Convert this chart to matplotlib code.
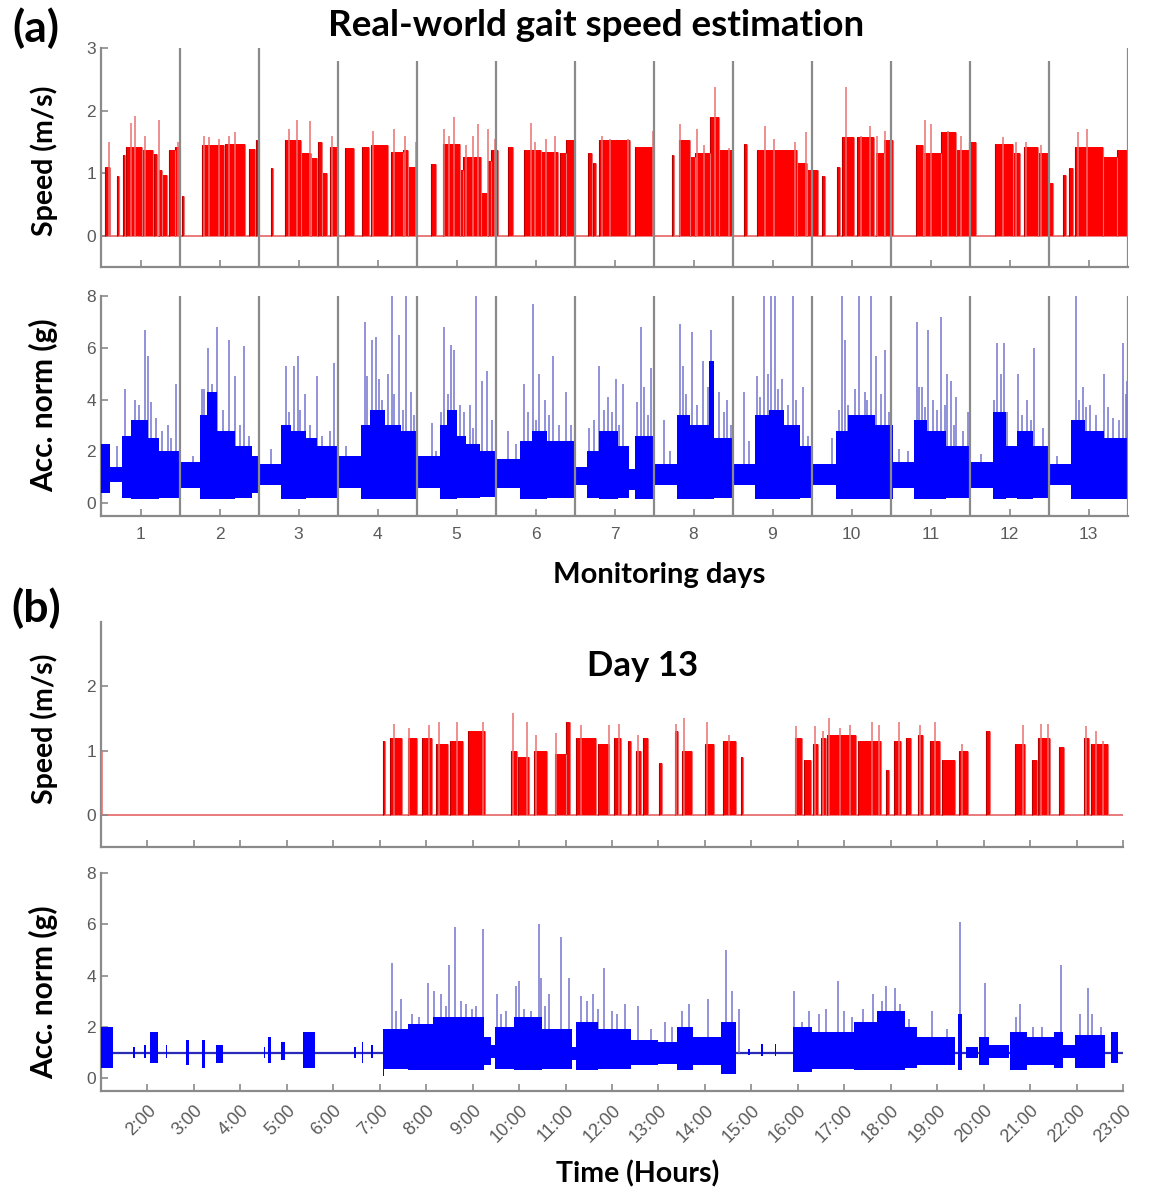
import matplotlib
matplotlib.use("Agg")
import matplotlib.pyplot as plt

# ---- panel (a): 13 monitoring days, x in day units ----
days = list(range(1, 14))
day_separators = [1.5, 2.5, 3.5, 4.5, 5.5, 6.5, 7.5, 8.5, 9.5, 10.5, 11.5, 12.5, 13.5]
separator_tops_speed = [3.0, 3.0, 2.8, 2.8, 2.8, 2.8, 2.8, 2.8, 2.8, 2.8, 2.8, 2.8, 3.0]

# walking bouts: (start day, end day, speed m/s)
speed_a_bouts = [
    (0.55, 0.62, 1.10), (0.70, 0.725, 0.95), (0.775, 0.81, 1.29), (0.82, 1.016, 1.42),
    (1.016, 1.164, 1.37), (1.173, 1.215, 1.30), (1.228, 1.27, 1.05), (1.27, 1.334, 0.97),
    (1.355, 1.44, 1.37), (1.44, 1.50, 1.42),
    (1.524, 1.554, 0.63), (1.778, 2.062, 1.45), (2.074, 2.328, 1.47), (2.37, 2.455, 1.39),
    (2.468, 2.50, 1.53),
    (2.654, 2.68, 1.08), (2.824, 3.027, 1.53), (3.027, 3.154, 1.32), (3.154, 3.238, 1.24),
    (3.247, 3.302, 1.50), (3.302, 3.365, 1.00), (3.40, 3.50, 1.42),
    (3.59, 3.704, 1.40), (3.801, 3.894, 1.42), (3.924, 4.127, 1.45), (4.17, 4.318, 1.34),
    (4.318, 4.381, 1.37), (4.381, 4.487, 1.10),
    (4.68, 4.74, 1.15), (4.83, 5.04, 1.47), (5.04, 5.08, 1.05), (5.08, 5.31, 1.26),
    (5.31, 5.39, 0.68), (5.40, 5.44, 1.20), (5.44, 5.52, 1.37),
    (5.65, 5.715, 1.42), (5.855, 6.075, 1.37), (6.075, 6.286, 1.34), (6.308, 6.392, 1.32),
    (6.392, 6.50, 1.53),
    (6.67, 6.71, 1.32), (6.73, 6.77, 1.16), (6.80, 7.20, 1.53), (7.26, 7.50, 1.42),
    (7.725, 7.755, 1.29), (7.82, 7.96, 1.53), (7.96, 8.02, 1.26), (8.02, 8.21, 1.32),
    (8.21, 8.32, 1.90), (8.32, 8.50, 1.37),
    (8.635, 8.68, 1.47), (8.805, 9.31, 1.37), (9.31, 9.44, 1.16), (9.44, 9.57, 1.05),
    (9.63, 9.67, 0.95),
    (9.82, 9.86, 1.10), (9.875, 10.03, 1.58), (10.075, 10.285, 1.58), (10.31, 10.41, 1.32),
    (10.41, 10.52, 1.53),
    (10.82, 10.90, 1.45), (10.90, 11.13, 1.32), (11.13, 11.32, 1.66), (11.32, 11.49, 1.37),
    (11.49, 11.57, 1.50),
    (11.82, 12.04, 1.47), (12.04, 12.135, 1.32), (12.18, 12.36, 1.42), (12.36, 12.49, 1.32),
    (12.49, 12.55, 0.84),
    (12.68, 12.71, 0.97), (12.75, 12.805, 1.08), (12.825, 13.185, 1.42), (13.185, 13.355, 1.26),
    (13.355, 13.50, 1.37),
]
# single tall speed samples: (day, speed m/s)
speed_a_peaks = [
    (0.60, 1.50), (0.876, 1.80), (0.93, 1.92), (1.058, 1.60), (1.228, 1.85), (1.469, 1.50),
    (1.80, 1.60), (1.863, 1.58), (1.99, 1.55), (2.125, 1.60), (2.19, 1.65),
    (2.878, 1.70), (2.984, 1.85), (3.145, 1.84), (3.42, 1.60),
    (3.937, 1.68), (4.212, 1.70), (4.347, 1.60), (4.487, 1.50),
    (4.847, 1.70), (4.91, 1.60), (4.974, 1.90), (5.12, 1.45), (5.207, 1.60), (5.27, 1.78),
    (5.398, 1.70), (5.49, 1.55),
    (5.94, 1.80), (5.99, 1.50), (6.138, 1.55), (6.25, 1.60),
    (6.837, 1.60), (6.943, 1.55), (7.175, 1.55), (7.493, 1.67),
    (7.83, 1.78), (8.043, 1.70), (8.128, 1.45), (8.276, 2.37), (8.445, 1.40),
    (8.911, 1.75), (9.017, 1.55), (9.29, 1.50), (9.427, 1.65), (9.495, 1.55),
    (9.935, 2.37), (10.117, 1.60), (10.23, 1.75), (10.328, 1.60), (10.426, 1.67),
    (10.934, 1.85), (11.006, 1.78), (11.217, 1.68), (11.387, 1.60),
    (11.915, 1.58), (12.085, 1.50), (12.21, 1.50), (12.40, 1.45),
    (12.868, 1.65), (12.982, 1.70), (13.50, 1.83),
]

# acceleration envelope: (start day, end day, low g, high g)
acc_a_bands = [
    (0.50, 0.616, 0.4, 2.3), (0.616, 0.76, 0.8, 1.4),
    (0.76, 0.88, 0.2, 2.6), (0.88, 1.10, 0.15, 3.2), (1.10, 1.24, 0.15, 2.5), (1.24, 1.49, 0.2, 2.0),
    (1.50, 1.755, 0.6, 1.6),
    (1.755, 1.84, 0.15, 3.4), (1.84, 1.97, 0.15, 4.3), (1.97, 2.20, 0.15, 2.8), (2.20, 2.41, 0.2, 2.2),
    (2.41, 2.497, 0.4, 1.8), (2.497, 2.773, 0.7, 1.5),
    (2.773, 2.90, 0.15, 3.0), (2.90, 3.10, 0.15, 2.8), (3.10, 3.233, 0.2, 2.5), (3.233, 3.495, 0.2, 2.2),
    (3.495, 3.79, 0.6, 1.8),
    (3.79, 3.90, 0.15, 3.0), (3.90, 4.10, 0.15, 3.6), (4.10, 4.30, 0.15, 3.0), (4.30, 4.493, 0.15, 2.8),
    (4.493, 4.785, 0.6, 1.8),
    (4.785, 4.88, 0.15, 3.0), (4.88, 5.00, 0.15, 3.6), (5.00, 5.12, 0.2, 2.6), (5.12, 5.30, 0.2, 2.3),
    (5.30, 5.497, 0.25, 2.0),
    (5.497, 5.80, 0.6, 1.7),
    (5.80, 5.95, 0.15, 2.4), (5.95, 6.15, 0.15, 2.8), (6.15, 6.50, 0.2, 2.4),
    (6.505, 6.65, 0.7, 1.4),
    (6.65, 6.80, 0.2, 2.0), (6.80, 7.05, 0.15, 2.8), (7.05, 7.18, 0.2, 2.2), (7.18, 7.256, 0.5, 1.3),
    (7.256, 7.50, 0.15, 2.6),
    (7.50, 7.79, 0.7, 1.5),
    (7.79, 7.95, 0.15, 3.4), (7.95, 8.20, 0.15, 3.0), (8.20, 8.26, 0.15, 5.5), (8.26, 8.50, 0.2, 2.5),
    (8.502, 8.78, 0.7, 1.5),
    (8.78, 8.95, 0.15, 3.4), (8.95, 9.15, 0.15, 3.6), (9.15, 9.35, 0.15, 3.0), (9.35, 9.50, 0.2, 2.2),
    (9.50, 9.80, 0.7, 1.5),
    (9.80, 9.95, 0.15, 2.8), (9.95, 10.30, 0.15, 3.4), (10.30, 10.53, 0.15, 3.0),
    (10.53, 10.795, 0.6, 1.6),
    (10.795, 10.95, 0.15, 3.2), (10.95, 11.20, 0.15, 2.8), (11.20, 11.498, 0.2, 2.2),
    (11.498, 11.79, 0.6, 1.6),
    (11.79, 11.95, 0.15, 3.5), (11.95, 12.10, 0.2, 2.2), (12.10, 12.30, 0.15, 2.8), (12.30, 12.49, 0.2, 2.2),
    (12.49, 12.78, 0.7, 1.5),
    (12.78, 12.95, 0.15, 3.2), (12.95, 13.20, 0.15, 2.8), (13.20, 13.50, 0.15, 2.5),
]
acc_a_spikes = [
    (0.70, 2.2), (0.81, 4.4), (0.93, 4.0), (0.98, 3.8), (1.052, 6.7), (1.09, 5.7), (1.13, 3.9),
    (1.197, 3.3), (1.27, 2.8), (1.343, 3.0), (1.38, 2.5), (1.45, 4.6),
    (1.66, 1.8), (1.78, 4.4), (1.80, 4.4), (1.852, 6.0), (1.91, 4.6), (1.973, 6.8), (2.05, 3.6),
    (2.118, 6.3), (2.19, 4.9), (2.26, 3.0), (2.312, 6.05), (2.37, 2.6),
    (2.65, 2.1), (2.836, 5.3), (2.88, 3.5), (2.942, 5.3), (2.99, 5.7), (3.02, 3.6), (3.088, 4.2),
    (3.15, 3.0), (3.233, 4.9), (3.30, 2.6), (3.40, 2.8), (3.451, 5.4),
    (3.597, 2.2), (3.839, 7.0), (3.87, 4.9), (3.936, 6.3), (3.985, 6.4), (4.02, 4.8), (4.057, 4.0),
    (4.13, 5.0), (4.178, 8.0), (4.21, 4.2), (4.275, 6.5), (4.32, 3.6), (4.363, 8.0), (4.42, 4.3),
    (4.46, 3.4),
    (4.687, 3.1), (4.74, 2.0), (4.81, 3.5), (4.843, 6.8), (4.89, 4.2), (4.93, 6.1), (4.969, 5.9),
    (5.04, 3.8), (5.10, 3.5), (5.172, 3.8), (5.21, 2.9), (5.245, 8.0), (5.318, 4.7), (5.39, 5.1),
    (5.45, 3.2),
    (5.657, 2.8), (5.75, 2.3), (5.851, 4.6), (5.90, 3.5), (5.972, 7.7), (6.00, 3.2), (6.045, 5.0),
    (6.117, 4.0), (6.17, 3.4), (6.22, 5.7), (6.30, 3.0), (6.384, 4.3), (6.45, 3.0),
    (6.675, 2.9), (6.74, 3.2), (6.81, 5.3), (6.87, 3.6), (6.917, 4.1), (6.97, 3.5), (7.014, 4.8),
    (7.06, 3.0), (7.11, 4.6), (7.29, 3.9), (7.33, 6.8), (7.378, 4.5), (7.42, 3.4), (7.46, 5.2),
    (7.63, 3.2), (7.70, 2.0), (7.83, 6.9), (7.862, 5.3), (7.90, 4.2), (7.983, 6.6), (8.05, 3.8),
    (8.12, 5.5), (8.18, 4.5), (8.226, 6.7), (8.323, 4.3), (8.38, 3.5), (8.43, 4.0), (8.47, 3.0),
    (8.638, 4.3), (8.70, 2.4), (8.807, 4.9), (8.84, 4.1), (8.89, 8.0), (8.94, 5.0), (8.977, 8.0),
    (9.026, 8.0), (9.07, 4.4), (9.12, 4.8), (9.20, 3.8), (9.254, 8.0), (9.30, 4.0), (9.39, 4.5),
    (9.45, 2.6),
    (9.753, 2.5), (9.84, 3.6), (9.874, 8.0), (9.913, 6.3), (9.96, 3.8), (10.05, 4.4), (10.092, 8.0),
    (10.165, 4.3), (10.20, 4.0), (10.252, 8.0), (10.31, 5.7), (10.37, 4.2), (10.43, 5.9),
    (10.48, 3.5),
    (10.60, 2.1), (10.72, 2.0), (10.834, 7.0), (10.86, 4.5), (10.89, 4.5), (10.93, 3.7),
    (10.965, 6.7), (11.037, 4.0), (11.08, 3.6), (11.134, 7.2), (11.18, 3.8), (11.207, 5.0),
    (11.255, 4.7), (11.30, 3.0), (11.328, 4.1), (11.41, 2.8), (11.474, 3.5),
    (11.64, 1.9), (11.81, 4.0), (11.837, 6.2), (11.89, 5.0), (11.934, 6.2), (11.97, 3.5),
    (12.103, 5.0), (12.16, 3.4), (12.225, 4.0), (12.27, 3.2), (12.307, 6.0), (12.42, 2.9),
    (12.60, 1.8),
    (12.84, 8.0), (12.88, 4.0), (12.928, 4.5), (12.97, 3.7), (13.025, 3.8), (13.10, 3.4),
    (13.194, 5.0), (13.25, 3.7), (13.316, 3.3), (13.38, 3.2), (13.437, 6.2), (13.47, 4.2),
    (13.485, 4.7),
]

# ---- panel (b): day 13, x in hours ----
hour_ticks = list(range(2, 24))
hour_labels = [f"{h}:00" for h in hour_ticks]

speed_b_bouts = [
    (7.07, 7.12, 1.15), (7.23, 7.49, 1.20), (7.60, 7.80, 1.20), (7.91, 8.12, 1.20),
    (8.22, 8.47, 1.10), (8.51, 8.80, 1.15), (8.90, 9.27, 1.30),
    (9.83, 9.95, 1.00), (9.97, 10.21, 0.90), (10.32, 10.60, 1.00), (10.77, 11.00, 0.95),
    (11.02, 11.10, 1.45), (11.23, 11.66, 1.20), (11.70, 11.94, 1.10), (12.05, 12.20, 1.20),
    (12.34, 12.41, 1.15), (12.52, 12.62, 1.00), (12.67, 12.78, 1.20), (13.01, 13.07, 0.80),
    (13.35, 13.43, 1.30), (13.51, 13.72, 1.00), (14.01, 14.19, 1.10), (14.40, 14.66, 1.15),
    (14.77, 14.82, 0.90),
    (15.94, 16.08, 1.20), (16.13, 16.29, 0.85), (16.32, 16.44, 1.10), (16.50, 16.60, 1.20),
    (16.63, 17.26, 1.25), (17.30, 17.80, 1.15), (17.89, 17.96, 0.70), (18.07, 18.22, 1.15),
    (18.33, 18.43, 1.20), (18.59, 18.69, 1.25), (18.85, 19.06, 1.15), (19.11, 19.38, 0.85),
    (19.48, 19.67, 1.00), (20.06, 20.13, 1.30), (20.68, 20.89, 1.10), (21.05, 21.15, 0.85),
    (21.17, 21.42, 1.20), (21.63, 21.73, 1.05), (22.15, 22.26, 1.20), (22.31, 22.67, 1.10),
]
speed_b_peaks = [
    (1.03, 1.00), (7.31, 1.42), (7.63, 1.35), (8.07, 1.40), (8.28, 1.45), (8.67, 1.45), (9.22, 1.45),
    (9.87, 1.58), (10.18, 1.45), (10.37, 1.25), (10.79, 1.27), (11.33, 1.40), (11.94, 1.40),
    (12.15, 1.42), (12.57, 1.25), (13.38, 1.42), (13.54, 1.50), (14.04, 1.45), (14.51, 1.25),
    (15.97, 1.38), (16.36, 1.38), (16.55, 1.30), (16.67, 1.50), (16.91, 1.35), (17.12, 1.40),
    (17.60, 1.45), (17.75, 1.40), (18.17, 1.45), (18.62, 1.40), (18.96, 1.45), (19.53, 1.10),
    (20.84, 1.40), (21.24, 1.42), (21.39, 1.42), (22.20, 1.38), (22.41, 1.30), (22.57, 1.15),
]

acc_b_bands = [
    (1.00, 1.26, 0.4, 2.0),
    (1.68, 1.74, 0.8, 1.2), (1.92, 1.96, 0.8, 1.3), (2.06, 2.22, 0.6, 1.8), (2.39, 2.43, 0.8, 1.3),
    (2.84, 2.90, 0.5, 1.5), (3.17, 3.23, 0.4, 1.5), (3.47, 3.62, 0.6, 1.3), (4.50, 4.54, 0.8, 1.2),
    (4.60, 4.66, 0.6, 1.6), (4.87, 4.96, 0.7, 1.4), (5.35, 5.60, 0.4, 1.8), (6.44, 6.48, 0.8, 1.2),
    (6.61, 6.65, 0.6, 1.4), (6.82, 6.86, 0.8, 1.3), (7.06, 7.09, 0.1, 1.9),
    (7.09, 7.60, 0.35, 1.9), (7.60, 8.15, 0.3, 2.1), (8.15, 9.25, 0.3, 2.4), (9.25, 9.40, 0.5, 1.6),
    (9.40, 9.48, 0.8, 1.3),
    (9.48, 9.90, 0.35, 2.0), (9.90, 10.50, 0.3, 2.4), (10.50, 11.13, 0.35, 1.9), (11.13, 11.22, 0.7, 1.2),
    (11.22, 11.70, 0.3, 2.2), (11.70, 12.40, 0.35, 1.9), (12.40, 13.00, 0.5, 1.5), (13.00, 13.40, 0.55, 1.4),
    (13.40, 13.75, 0.3, 2.0), (13.75, 14.35, 0.5, 1.6), (14.35, 14.66, 0.15, 2.2),
    (14.93, 14.97, 0.9, 1.15), (15.21, 15.25, 0.85, 1.35), (15.50, 15.54, 0.85, 1.35),
    (15.89, 16.30, 0.25, 2.0), (16.30, 17.20, 0.35, 1.8), (17.20, 17.70, 0.3, 2.2),
    (17.70, 18.30, 0.3, 2.6), (18.30, 18.56, 0.4, 2.0), (18.56, 19.38, 0.5, 1.6),
    (19.44, 19.54, 0.3, 2.5), (19.62, 19.87, 0.8, 1.2), (19.91, 20.11, 0.5, 1.6),
    (20.11, 20.55, 0.8, 1.3), (20.57, 20.93, 0.3, 1.8), (20.93, 21.51, 0.5, 1.6),
    (21.51, 21.71, 0.4, 1.8), (21.71, 21.96, 0.8, 1.3), (21.96, 22.62, 0.4, 1.7),
    (22.74, 22.90, 0.6, 1.8),
]
acc_b_spikes = [
    (1.00, 2.7), (7.27, 4.5), (7.36, 2.6), (7.46, 3.1), (7.70, 2.5), (7.85, 2.4), (8.03, 3.7),
    (8.16, 3.4), (8.32, 3.3), (8.42, 2.8), (8.50, 4.4), (8.61, 5.9), (8.75, 3.0), (8.86, 2.9),
    (8.98, 2.7), (9.07, 2.8), (9.22, 5.8), (9.52, 3.3), (9.62, 2.5), (9.71, 2.6), (9.93, 3.6),
    (9.99, 3.8), (10.10, 2.7), (10.25, 2.6), (10.43, 6.0), (10.47, 3.9), (10.55, 2.8), (10.64, 3.3),
    (10.90, 5.5), (11.07, 3.9), (11.34, 3.2), (11.46, 3.0), (11.59, 3.3), (11.70, 2.7), (11.83, 4.3),
    (11.99, 2.6), (12.10, 2.5), (12.28, 2.9), (12.57, 2.8), (12.85, 1.9), (13.14, 2.2), (13.30, 2.0),
    (13.51, 2.6), (13.65, 2.9), (14.06, 3.1), (14.45, 5.0), (14.58, 3.4), (14.74, 2.7), (15.91, 3.4),
    (16.09, 2.2), (16.25, 2.6), (16.45, 2.5), (16.60, 2.7), (16.87, 3.8), (17.00, 2.6), (17.16, 2.4),
    (17.41, 2.7), (17.61, 3.3), (17.82, 3.0), (17.90, 3.6), (18.10, 3.5), (18.20, 2.9), (18.39, 2.3),
    (18.88, 2.6), (19.21, 1.9), (19.50, 6.1), (20.03, 3.7), (20.69, 2.4), (20.79, 2.9), (21.06, 2.0),
    (21.26, 2.0), (21.67, 4.4), (22.08, 2.5), (22.25, 3.5), (22.33, 2.5), (22.53, 2.0),
]

RED = "#ff0000"
RED_EDGE = "#b40000"
RED_LIGHT = "#e87070"
BLUE = "#0000ff"
BLUE_LIGHT = "#7474d0"
GRAY = "#8a8a8a"
TICK_TXT = "#5a5a5a"
BOLD_FONT = ["Lato", "DejaVu Sans"]

W, H = 1150, 1190
fig = plt.figure(figsize=(W / 100, H / 100), dpi=100)


def px_axes(left, top, right, bottom):
    return fig.add_axes([left / W, 1 - bottom / H, (right - left) / W, (bottom - top) / H])


def style(ax, xlim, ylim, yticks):
    ax.set_xlim(*xlim)
    ax.set_ylim(*ylim)
    ax.set_yticks(yticks)
    for side in ["top", "right"]:
        ax.spines[side].set_visible(False)
    for side in ["left", "bottom"]:
        ax.spines[side].set_color(GRAY)
        ax.spines[side].set_linewidth(1.6)
    ax.tick_params(direction="in", length=5, width=1.2, color=GRAY, labelcolor=TICK_TXT,
                   labelsize=12.5)
    for lab in ax.get_yticklabels() + ax.get_xticklabels():
        lab.set_fontfamily("Liberation Sans")


def draw_speed(ax, bouts, peaks, x0, x1):
    ax.hlines(0, x0, x1, color=RED_LIGHT, lw=1.3, zorder=1)
    starts = [b[0] for b in bouts]
    widths = [b[1] - b[0] for b in bouts]
    levels = [b[2] for b in bouts]
    ax.bar(starts, levels, width=widths, align="edge", color=RED, edgecolor="none", zorder=2)
    ax.vlines(starts, 0, levels, color=RED_EDGE, lw=0.8, zorder=3)
    ax.vlines([b[1] for b in bouts], 0, levels, color=RED_LIGHT, lw=0.8, zorder=3)
    ax.vlines([p[0] for p in peaks], 0, [p[1] for p in peaks], color=RED_LIGHT, lw=1.1, zorder=3)


def draw_acc(ax, bands, spikes, x0, x1):
    ax.hlines(1.0, x0, x1, color="#2a2ab8", lw=1.6, zorder=1)
    ax.vlines([s[0] for s in spikes], 1.0, [s[1] for s in spikes], color=BLUE_LIGHT, lw=1.1, zorder=2)
    for start, end, low, high in bands:
        ax.fill_between([start, end], low, high, color=BLUE, lw=0, zorder=3)


# (a) speed
ax1 = px_axes(101, 48, 1128, 267)
draw_speed(ax1, speed_a_bouts, speed_a_peaks, 0.5, 13.5)
ax1.vlines(day_separators, -0.5, separator_tops_speed, color=GRAY, lw=1.6, zorder=4)
style(ax1, (0.5, 13.5), (-0.5, 3), [0, 1, 2, 3])
ax1.set_xticks(days)
ax1.set_xticklabels([])

# (a) acceleration
ax2 = px_axes(101, 296, 1128, 516)
draw_acc(ax2, acc_a_bands, acc_a_spikes, 0.5, 13.5)
ax2.vlines(day_separators, -0.5, 8, color=GRAY, lw=1.6, zorder=4)
style(ax2, (0.5, 13.5), (-0.5, 8), [0, 2, 4, 6, 8])
ax2.set_xticks(days)
ax2.set_xticklabels([str(d) for d in days], fontfamily="Liberation Sans")
ax2.tick_params(axis="x", pad=8)

# (b) speed
ax3 = px_axes(101, 622, 1123, 847)
draw_speed(ax3, speed_b_bouts, speed_b_peaks, 1.0, 23.0)
style(ax3, (1, 23), (-0.5, 3), [0, 1, 2])
ax3.set_xticks(hour_ticks)
ax3.set_xticklabels([])

# (b) acceleration
ax4 = px_axes(101, 873, 1123, 1091)
draw_acc(ax4, acc_b_bands, acc_b_spikes, 1.0, 23.0)
style(ax4, (1, 23), (-0.5, 8), [0, 2, 4, 6, 8])
ax4.set_xticks(hour_ticks)
ax4.set_xticklabels(hour_labels, rotation=45, ha="right", va="top", rotation_mode="anchor",
                    fontfamily="Liberation Sans", fontsize=13)
ax4.tick_params(axis="x", pad=8)


def fig_text(x, y, s, size, **kw):
    fig.text(x / W, 1 - y / H, s, fontsize=size, fontweight="bold", family=BOLD_FONT,
             ha="center", va="center", **kw)


fig_text(596, 26, "Real-world gait speed estimation", 26.5)
fig_text(36, 28, "(a)", 32)
fig_text(36, 608, "(b)", 32)
fig_text(659, 575, "Monitoring days", 21)
fig_text(643, 666, "Day 13", 25)
fig_text(638, 1174, "Time (Hours)", 20.5)
fig_text(44, 161, "Speed (m/s)", 20.5, rotation=90)
fig_text(44, 405, "Acc. norm (g)", 21.5, rotation=90)
fig_text(44, 729, "Speed (m/s)", 20.5, rotation=90)
fig_text(44, 992, "Acc. norm (g)", 21.5, rotation=90)

fig.savefig("out.png", dpi=100)
